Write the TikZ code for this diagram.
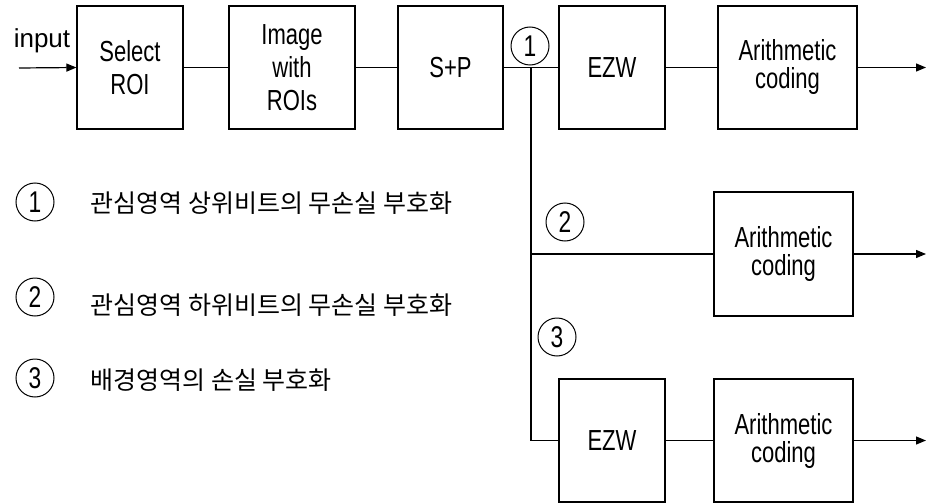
\documentclass[tikz,border=0pt]{standalone}
\usepackage{fontspec}
\setmainfont{Liberation Sans}
\newfontfamily\boxfont[FakeStretch=0.76]{Liberation Sans}
\newfontfamily\kofont{Noto Sans CJK KR}
\usetikzlibrary{arrows.meta}
\begin{document}
\begin{tikzpicture}[x=1pt,y=-1pt,line width=1.2pt,
  blk/.style={draw,minimum height=123pt,inner sep=0pt,align=center,font=\boxfont\fontsize{29}{33}\selectfont},
  arith/.style={blk,minimum width=139pt,font=\boxfont\fontsize{29}{28}\selectfont},
  num/.style={draw,circle,line width=1pt,minimum size=38pt,inner sep=0pt,font=\boxfont\fontsize{30}{30}\selectfont},
  kor/.style={anchor=west,inner sep=0pt,font=\kofont\fontsize{25}{25}\selectfont},
  arr/.style={-{Triangle[length=10pt,width=8pt]}}]
\useasboundingbox (0,0) rectangle (926,503);
% top row
\node[inner sep=0pt,font=\fontsize{26}{26}\selectfont] (inp) at (42,41) {input};
\coordinate (inpS) at (19,68);
\node[blk,minimum width=106pt] (sel) at (130,67.5) {Select\\ROI};
\node[blk,minimum width=126pt] (img) at (292,67.5) {Image\\with\\ROIs};
\node[blk,minimum width=105pt] (sp) at (450.5,67.5) {S+P};
\node[blk,minimum width=106pt] (ezw1) at (612,67.5) {EZW};
\node[arith] (ar1) at (787.5,67.5) {Arithmetic\\coding};
\coordinate (j1) at (531,67.5);
\coordinate (o1) at (926,67.5);
% middle row
\node[arith,minimum height=124pt] (ar2) at (783.5,254) {Arithmetic\\coding};
\coordinate (j2) at (531,254);
\coordinate (o2) at (926,254);
% bottom row
\node[blk,minimum width=106pt] (ezw3) at (612,440.5) {EZW};
\node[arith] (ar3) at (783.5,440.5) {Arithmetic\\coding};
\coordinate (j3) at (531,440.5);
\coordinate (o3) at (926,440.5);
% connectors
\draw[arr] (inpS) -- (sel.west);
\draw (sel) -- (img);
\draw (img) -- (sp);
\draw (sp) -- (ezw1);
\draw (ezw1) -- (ar1);
\draw[arr] (ar1.east) -- (o1);
\draw (j1) -- (j3) -- (ezw3.west);
\draw (j2) -- (ar2.west);
\draw[arr] (ar2.east) -- (o2);
\draw (ezw3) -- (ar3);
\draw[arr] (ar3.east) -- (o3);
% circled numbers on branches
\node[num] (c1) at (530,46) {1};
\node[num] (c2) at (565,222) {2};
\node[num] (c3) at (557,337) {3};
% legend
\node[num] (l1) at (35,202) {1};
\node[num] (l2) at (35,297) {2};
\node[num] (l3) at (35,378) {3};
\node[kor] (t1) at (90,203) {관심영역 상위비트의 무손실 부호화};
\node[kor] (t2) at (90,305) {관심영역 하위비트의 무손실 부호화};
\node[kor] (t3) at (90,380) {배경영역의 손실 부호화};
\end{tikzpicture}
\end{document}
